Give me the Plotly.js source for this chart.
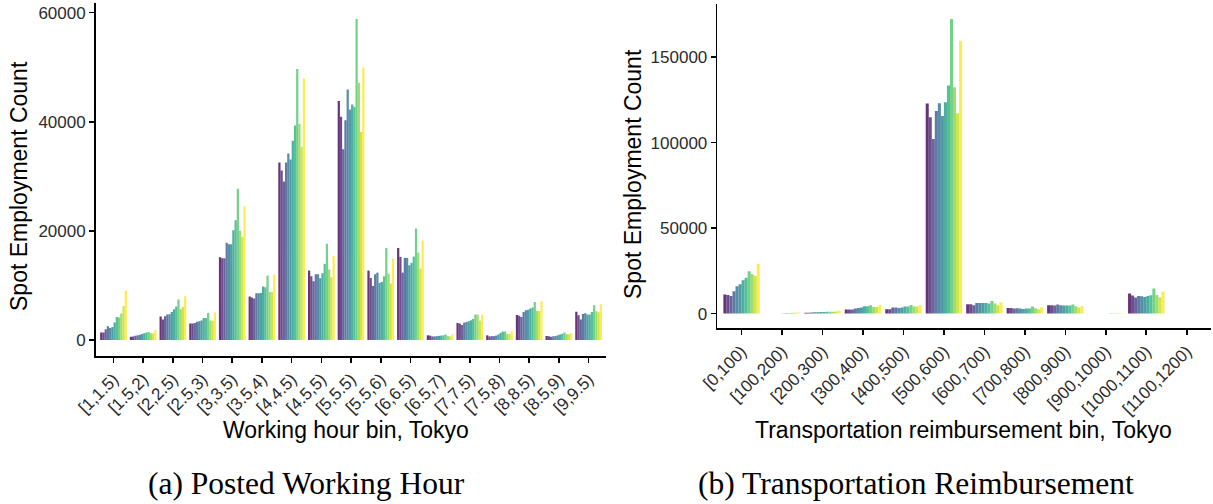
<!DOCTYPE html>
<html>
<head>
<meta charset="utf-8">
<script src="https://cdn.plot.ly/plotly-3.0.1.min.js"></script>
<style>
  html, body { margin: 0; padding: 0; background: #ffffff; }
  #chart { width: 1213px; height: 504px; }
</style>
</head>
<body>
<div id="chart"></div>
<script>
// ---- Data ----
const hourBins = ["[1,1.5)", "[1.5,2)", "[2,2.5)", "[2.5,3)", "[3,3.5)", "[3.5,4)", "[4,4.5)", "[4.5,5)",
  "[5,5.5)", "[5.5,6)", "[6,6.5)", "[6.5,7)", "[7,7.5)", "[7.5,8)", "[8,8.5)", "[8.5,9)", "[9,9.5)"];

const fareBins = ["[0,100)", "[100,200)", "[200,300)", "[300,400)", "[400,500)", "[500,600)",
  "[600,700)", "[700,800)", "[800,900)", "[900,1000)", "[1000,1100)", "[1100,1200)"];

const seriesNames = ["Period 1", "Period 2", "Period 3", "Period 4", "Period 5", "Period 6",
  "Period 7", "Period 8", "Period 9", "Period 10", "Period 11", "Period 12"];

// one row per working-hour bin, one value per period
const hourCounts = [
  [1350, 1350, 1960, 2510, 2200, 2390, 3180, 4220, 4100, 4830, 6240, 9050],
  [610, 650, 750, 850, 950, 1100, 1250, 1350, 1470, 1220, 1250, 1830],
  [4280, 3730, 4340, 4650, 4710, 5140, 5630, 6120, 7400, 5630, 6060, 8010],
  [3000, 3000, 3100, 3360, 3430, 3550, 4040, 4040, 4950, 3550, 3500, 5020],
  [15170, 14990, 14990, 17800, 17550, 17550, 20120, 21960, 27710, 20000, 18900, 24530],
  [7950, 7770, 7580, 8560, 8560, 8620, 9790, 9660, 11800, 8810, 8810, 11990],
  [32540, 31070, 29050, 32540, 34190, 33090, 36510, 39330, 49660, 39630, 35410, 47950],
  [12720, 11680, 10770, 12050, 12050, 11320, 12230, 13950, 17620, 12910, 11500, 15410],
  [43800, 40900, 34970, 40290, 45930, 42260, 43170, 42750, 58830, 47160, 38170, 49970],
  [12720, 11370, 9910, 12040, 12350, 10460, 10640, 11670, 16880, 12160, 10330, 14920],
  [16880, 15230, 12350, 15050, 15050, 13690, 14130, 15290, 20430, 16030, 13090, 18230],
  [850, 800, 650, 650, 700, 750, 800, 850, 1000, 700, 650, 1000],
  [3120, 3000, 2750, 3180, 3300, 3430, 3610, 3850, 4650, 4650, 3550, 4650],
  [850, 650, 700, 700, 800, 1000, 1300, 1550, 1550, 1100, 1100, 1650],
  [4590, 4460, 4220, 5140, 5440, 5560, 5750, 5930, 6970, 5320, 5320, 7150],
  [730, 670, 600, 670, 730, 850, 980, 1160, 1350, 1040, 1040, 1280],
  [5190, 4520, 3730, 4770, 4890, 4650, 4650, 5140, 6360, 5260, 5080, 6540]
];

// one row per transportation-reimbursement bin, one value per period
const fareCounts = [
  [11130, 10940, 10350, 13090, 16020, 17190, 19530, 20900, 24800, 23050, 22070, 29100],
  [50, 50, 50, 50, 50, 80, 250, 350, 400, 500, 500, 600],
  [500, 500, 700, 800, 800, 900, 900, 1000, 1100, 1100, 1200, 1700],
  [2340, 2340, 2400, 2930, 3200, 3520, 4300, 4300, 4880, 3900, 3900, 4880],
  [2540, 2540, 3520, 3520, 3330, 3520, 4100, 4100, 5080, 4100, 4100, 4880],
  [122850, 114840, 102150, 118560, 123050, 115630, 123630, 133400, 172270, 132420, 117190, 159570],
  [5470, 5470, 4880, 6250, 6250, 6250, 6250, 5860, 7420, 5860, 4880, 6640],
  [3320, 3320, 2930, 3130, 2930, 2730, 2930, 2930, 4100, 3130, 2540, 3710],
  [4880, 4880, 4690, 5270, 4880, 4690, 4690, 4690, 5270, 4300, 3520, 4490],
  [0, 0, 0, 0, 0, 0, 100, 150, 150, 150, 150, 150],
  [11720, 10550, 9380, 10350, 10160, 9770, 10350, 10740, 14650, 10940, 9570, 12890],
  [0, 0, 0, 0, 0, 0, 0, 0, 0, 0, 0, 0]
];

const yTicksLeft = [0, 20000, 40000, 60000];
const yTicksRight = [0, 50000, 100000, 150000];

// ---- Styling ----
const viridis12 = ["#440154", "#482173", "#433E85", "#38598C", "#2D708E", "#25858E",
  "#1E9B8A", "#2BB07F", "#51C56A", "#85D54A", "#C2DF23", "#FDE725"];

const W = 1213, H = 504;
const px = v => v / W;
const py = v => 1 - v / H;

const traces = [];
seriesNames.forEach((name, i) => {
  traces.push({
    type: "bar", name: name, x: hourBins, y: hourCounts.map(r => r[i]),
    xaxis: "x", yaxis: "y",
    marker: { color: viridis12[i], opacity: 0.8, line: { width: 0 } },
    showlegend: false, hoverinfo: "x+y+name"
  });
  traces.push({
    type: "bar", name: name, x: fareBins, y: fareCounts.map(r => r[i]),
    xaxis: "x2", yaxis: "y2",
    marker: { color: viridis12[i], opacity: 0.8, line: { width: 0 } },
    showlegend: false, hoverinfo: "x+y+name"
  });
});

const sans = "Liberation Sans, Arial, sans-serif";
const tickFont = { family: sans, size: 17, color: "#2b2b2b" };
const titleFont = { family: sans, size: 23, color: "#000" };
const capFont = { family: "Liberation Serif, serif", size: 31.5, color: "#000" };

const maxL = Math.max(...hourCounts.flat());
const maxR = Math.max(...fareCounts.flat());

const axisCommon = {
  showline: true, linecolor: "#000000", linewidth: 1.6,
  ticks: "outside", ticklen: 5, tickwidth: 1.6, tickcolor: "#000000",
  showgrid: false, zeroline: false, tickfont: tickFont, fixedrange: true
};

const layout = {
  width: W, height: H,
  margin: { l: 0, r: 0, t: 0, b: 0 },
  paper_bgcolor: "#ffffff", plot_bgcolor: "#ffffff",
  barmode: "group", bargap: 0.1, bargroupgap: 0,
  xaxis: Object.assign({}, axisCommon, {
    domain: [px(95.7), px(606.4)], anchor: "y",
    type: "category", categoryorder: "array", categoryarray: hourBins,
    range: [-0.6, hourBins.length - 0.4], tickangle: -45
  }),
  yaxis: Object.assign({}, axisCommon, {
    domain: [py(356), py(3)], anchor: "x",
    range: [-0.05 * maxL, 1.05 * maxL], tickvals: yTicksLeft, tickformat: "d"
  }),
  xaxis2: Object.assign({}, axisCommon, {
    domain: [px(717.3), px(1211)], anchor: "y2",
    type: "category", categoryorder: "array", categoryarray: fareBins,
    range: [-0.6, fareBins.length - 0.4], tickangle: -45
  }),
  yaxis2: Object.assign({}, axisCommon, {
    domain: [py(328.3), py(4.4)], anchor: "x2",
    range: [-0.05 * maxR, 1.05 * maxR], tickvals: yTicksRight, tickformat: "d"
  }),
  annotations: [
    { text: "Working hour bin, Tokyo", xref: "paper", yref: "paper", x: px(346), y: py(430),
      xanchor: "center", yanchor: "middle", showarrow: false, font: titleFont },
    { text: "Transportation reimbursement bin, Tokyo", xref: "paper", yref: "paper", x: px(963), y: py(430),
      xanchor: "center", yanchor: "middle", showarrow: false, font: titleFont },
    { text: "Spot Employment Count", xref: "paper", yref: "paper", x: px(19), y: py(186),
      xanchor: "center", yanchor: "middle", textangle: -90, showarrow: false, font: titleFont },
    { text: "Spot Employment Count", xref: "paper", yref: "paper", x: px(633), y: py(174),
      xanchor: "center", yanchor: "middle", textangle: -90, showarrow: false, font: titleFont },
    { text: "(a) Posted Working Hour", xref: "paper", yref: "paper", x: px(306), y: py(483),
      xanchor: "center", yanchor: "middle", showarrow: false, font: capFont },
    { text: "(b) Transportation Reimbursement", xref: "paper", yref: "paper", x: px(916), y: py(483),
      xanchor: "center", yanchor: "middle", showarrow: false, font: capFont }
  ]
};

Plotly.newPlot("chart", traces, layout, { staticPlot: true, displayModeBar: false });
</script>
</body>
</html>
